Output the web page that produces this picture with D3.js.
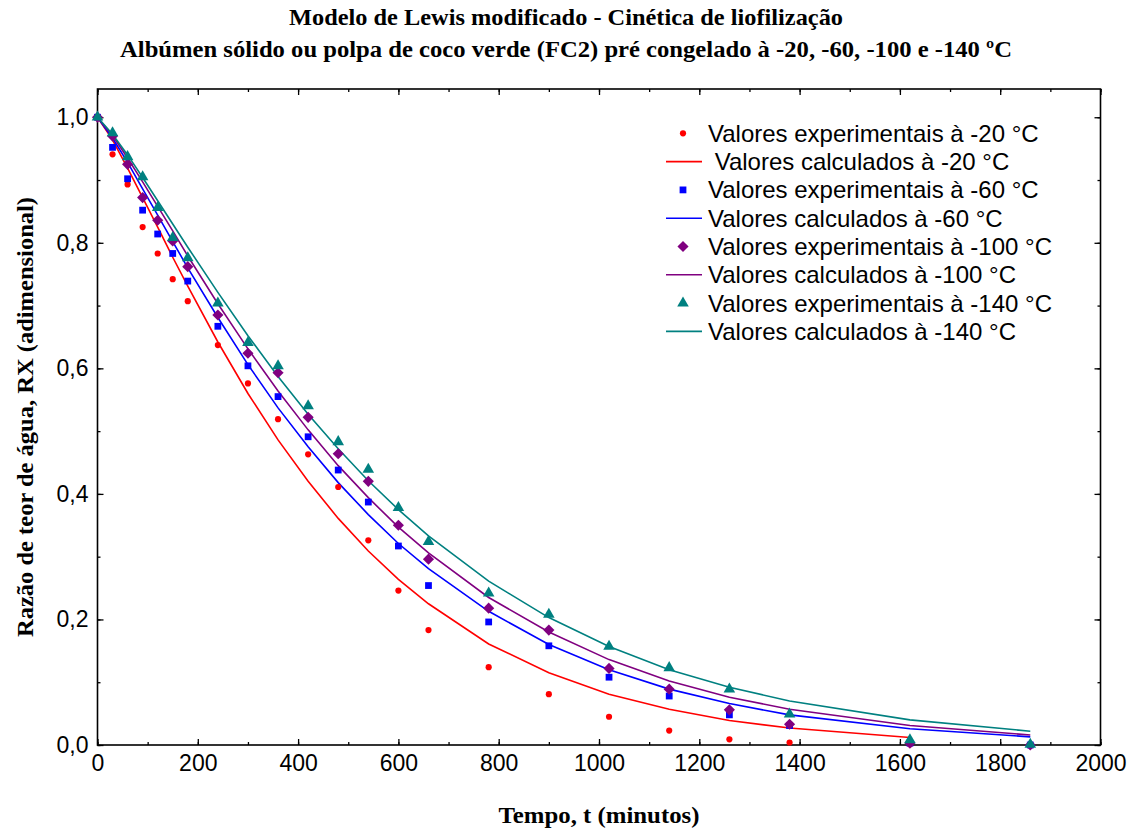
<!DOCTYPE html>
<html>
<head>
<meta charset="utf-8">
<script src="https://cdn.jsdelivr.net/npm/d3@7"></script>
<style>
  html, body { margin: 0; padding: 0; background: #fff; }
  svg { display: block; }
</style>
</head>
<body>
<svg id="chart" width="1132" height="832"></svg>
<script>
// ---------------- DATA ----------------
const times = [0,30,60,90,120,150,180,240,300,360,420,480,540,600,660,780,900,1020,1140,1260,1380,1620,1860];

const expM20  = [1.0,0.941,0.893,0.825,0.783,0.742,0.707,0.637,0.576,0.519,0.463,0.411,0.326,0.246,0.183,0.124,0.081,0.045,0.023,0.009,0.004,0.001];
const calcM20 = [1.0,0.964,0.919,0.872,0.825,0.777,0.731,0.642,0.560,0.486,0.420,0.361,0.309,0.264,0.225,0.161,0.115,0.081,0.057,0.039,0.027,0.012];

const expM60  = [1.0,0.952,0.902,0.852,0.814,0.783,0.739,0.667,0.604,0.555,0.491,0.438,0.387,0.317,0.254,0.196,0.158,0.108,0.078,0.048,0.031,0.003,0.0];
const calcM60 = [1.0,0.967,0.928,0.886,0.844,0.802,0.760,0.681,0.606,0.537,0.475,0.418,0.367,0.321,0.281,0.213,0.160,0.120,0.089,0.066,0.048,0.026,0.013];

const expM100  = [1.0,0.970,0.925,0.872,0.836,0.803,0.762,0.685,0.624,0.593,0.522,0.464,0.420,0.350,0.296,0.218,0.183,0.122,0.089,0.056,0.033,0.003,0.0];
const calcM100 = [1.0,0.971,0.935,0.897,0.858,0.819,0.779,0.703,0.631,0.564,0.502,0.445,0.394,0.347,0.306,0.235,0.180,0.136,0.102,0.076,0.057,0.031,0.016];

const expM140  = [1.0,0.975,0.937,0.905,0.856,0.808,0.776,0.704,0.641,0.604,0.540,0.483,0.439,0.378,0.324,0.242,0.208,0.157,0.123,0.089,0.049,0.008,0.001];
const calcM140 = [1.0,0.973,0.940,0.904,0.867,0.830,0.793,0.721,0.652,0.587,0.527,0.472,0.421,0.375,0.333,0.261,0.203,0.157,0.120,0.092,0.070,0.040,0.022];

const xTicks = [0,200,400,600,800,1000,1200,1400,1600,1800,2000];
const yTicks = [0,0.2,0.4,0.6,0.8,1.0];

const legendLabels = [
  "Valores experimentais à -20 °C",
  " Valores calculados à -20 °C",
  "Valores experimentais à -60 °C",
  "Valores calculados à -60 °C",
  "Valores experimentais à -100 °C",
  "Valores calculados à -100 °C",
  "Valores experimentais à -140 °C",
  "Valores calculados à -140 °C"
];

const titleLines = [
  "Modelo de Lewis modificado - Cinética de liofilização",
  "Albúmen sólido ou polpa de coco verde (FC2) pré congelado à -20, -60, -100 e -140 ºC"
];
const xTitle = "Tempo, t (minutos)";
const yTitle = "Razão de teor de água, RX (adimensional)";

// ---------------- LAYOUT / STYLE ----------------
const svg = d3.select("#chart");
const L = 97.5, R = 1100.5, T = 89, B = 745;
const x = d3.scaleLinear().domain([0, 2000]).range([L, R]);
const y = d3.scaleLinear().domain([0, 1.045]).range([B, T]);

const series = [
  {exp: expM20,  calc: calcM20,  color: "#ff0000", shape: "circle"},
  {exp: expM60,  calc: calcM60,  color: "#0000ff", shape: "square"},
  {exp: expM100, calc: calcM100, color: "#800080", shape: "diamond"},
  {exp: expM140, calc: calcM140, color: "#008080", shape: "triangle"}
];

const sansFont = "'Liberation Sans', Arial, sans-serif";
const serifFont = "'Liberation Serif', 'Times New Roman', serif";

// Titles
svg.selectAll("text.title").data(titleLines).enter().append("text")
  .attr("class", "title")
  .attr("x", 566).attr("y", (d, i) => 25 + i * 32)
  .attr("text-anchor", "middle")
  .attr("font-family", serifFont).attr("font-weight", "bold").attr("font-size", 23)
  .attr("textLength", (d, i) => i === 0 ? 554 : 892)
  .attr("lengthAdjust", "spacingAndGlyphs")
  .text(d => d);

// Axes (all four sides, inward ticks)
function styleAxis(g) {
  g.select(".domain").remove();
  g.selectAll("line").attr("stroke", "#000").attr("stroke-width", 1.3);
  g.selectAll("text").attr("font-family", sansFont).attr("font-size", 23).attr("fill", "#000");
}
const xMinor = d3.range(0, 2001, 100);
const yMinor = d3.range(0, 1.05, 0.1);

// bottom
svg.append("g").attr("transform", `translate(0,${B})`)
  .call(d3.axisBottom(x).tickValues(xMinor).tickSize(-3).tickFormat(""))
  .call(styleAxis);
svg.append("g").attr("transform", `translate(0,${B})`)
  .call(d3.axisBottom(x).tickValues(xTicks).tickSize(-6).tickFormat(d3.format("d")))
  .call(styleAxis)
  .call(g => g.selectAll("text").attr("dy", "0.71em").attr("y", 10));
// top
svg.append("g").attr("transform", `translate(0,${T})`)
  .call(d3.axisTop(x).tickValues(xMinor).tickSize(-3).tickFormat(""))
  .call(styleAxis);
svg.append("g").attr("transform", `translate(0,${T})`)
  .call(d3.axisTop(x).tickValues(xTicks).tickSize(-6).tickFormat(""))
  .call(styleAxis);
// left
svg.append("g").attr("transform", `translate(${L},0)`)
  .call(d3.axisLeft(y).tickValues(yMinor).tickSize(-3).tickFormat(""))
  .call(styleAxis);
svg.append("g").attr("transform", `translate(${L},0)`)
  .call(d3.axisLeft(y).tickValues(yTicks).tickSize(-6)
        .tickFormat(d => d3.format(".1f")(d).replace(".", ",")))
  .call(styleAxis)
  .call(g => g.selectAll("text").attr("x", -9));
// right
svg.append("g").attr("transform", `translate(${R},0)`)
  .call(d3.axisRight(y).tickValues(yMinor).tickSize(-3).tickFormat(""))
  .call(styleAxis);
svg.append("g").attr("transform", `translate(${R},0)`)
  .call(d3.axisRight(y).tickValues(yTicks).tickSize(-6).tickFormat(""))
  .call(styleAxis);

// Frame
svg.append("rect").attr("x", L).attr("y", T).attr("width", R - L).attr("height", B - T)
  .attr("fill", "none").attr("stroke", "#000").attr("stroke-width", 1.6);

// Axis titles
svg.append("text").attr("x", (L + R) / 2).attr("y", 823)
  .attr("text-anchor", "middle")
  .attr("font-family", serifFont).attr("font-weight", "bold").attr("font-size", 23)
  .attr("textLength", 201).attr("lengthAdjust", "spacingAndGlyphs")
  .text(xTitle);
svg.append("text")
  .attr("transform", `translate(33,${(T + B) / 2}) rotate(-90)`)
  .attr("text-anchor", "middle")
  .attr("font-family", serifFont).attr("font-weight", "bold").attr("font-size", 23)
  .attr("textLength", 440).attr("lengthAdjust", "spacingAndGlyphs")
  .text(yTitle);

// Plot lines
const line = d3.line().x((d, i) => x(times[i])).y(d => y(d));
const plot = svg.append("g");
series.forEach(s => {
  plot.append("path").datum(s.calc)
    .attr("d", line)
    .attr("fill", "none").attr("stroke", s.color).attr("stroke-width", 1.6);
});

// Markers
const symSize = {circle: 30, square: 46, diamond: 62, triangle: 58};
const symType = {circle: d3.symbolCircle, square: d3.symbolSquare, diamond: d3.symbolDiamond, triangle: d3.symbolTriangle};
function drawSymbol(g, shape, color, cx, cy) {
  if (shape === "diamond") {
    g.append("path")
      .attr("d", d3.symbol().type(d3.symbolSquare).size(symSize.diamond)())
      .attr("transform", `translate(${cx},${cy}) rotate(45)`)
      .attr("fill", color);
  } else {
    g.append("path")
      .attr("d", d3.symbol().type(symType[shape]).size(symSize[shape])())
      .attr("transform", `translate(${cx},${cy})`)
      .attr("fill", color);
  }
}
series.forEach(s => {
  s.exp.forEach((v, i) => drawSymbol(plot, s.shape, s.color, x(times[i]), y(v)));
});

// Legend
const leg = svg.append("g");
const legX0 = 666, legX1 = 702, legMX = 683, legTX = 708, legY0 = 133.3, legDY = 28.3;
legendLabels.forEach((lab, i) => {
  const s = series[Math.floor(i / 2)];
  const yy = legY0 + i * legDY;
  if (i % 2 === 0) {
    drawSymbol(leg, s.shape, s.color, legMX, yy);
  } else {
    leg.append("line").attr("x1", legX0).attr("x2", legX1).attr("y1", yy).attr("y2", yy)
      .attr("stroke", s.color).attr("stroke-width", 1.6);
  }
  leg.append("text").attr("x", legTX).attr("y", yy).attr("dy", "0.35em")
    .attr("font-family", sansFont).attr("font-size", 24).attr("fill", "#000")
    .style("white-space", "pre")
    .text(lab);
});
</script>
</body>
</html>
